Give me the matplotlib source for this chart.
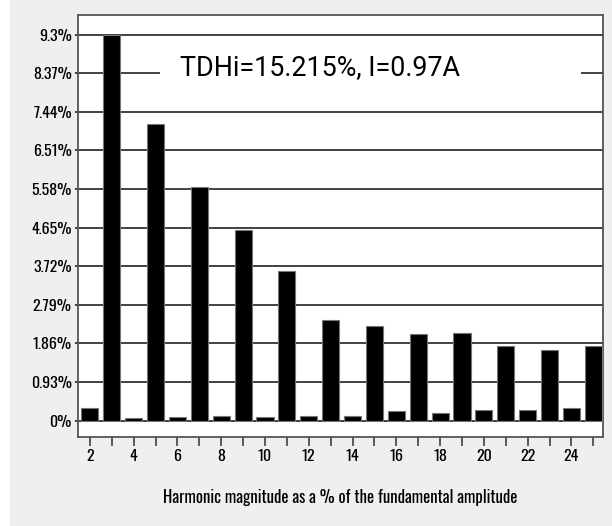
import matplotlib
matplotlib.use('Agg')
import matplotlib.pyplot as plt
from matplotlib.patches import Rectangle

# harmonic order and magnitude (% of fundamental)
harmonics = list(range(2, 26))
magnitude = [0.29, 9.30, 0.05, 7.14, 0.08, 5.63, 0.12, 4.60, 0.08, 3.60,
             0.11, 2.42, 0.11, 2.28, 0.22, 2.08, 0.18, 2.11, 0.26, 1.79,
             0.26, 1.70, 0.29, 1.79]

y_ticks = [0, 0.93, 1.86, 2.79, 3.72, 4.65, 5.58, 6.51, 7.44, 8.37, 9.3]
y_labels = ['0%', '0.93%', '1.86%', '2.79%', '3.72%', '4.65%', '5.58%',
            '6.51%', '7.44%', '8.37%', '9.3%']
x_labels = [str(h) if h % 2 == 0 else '' for h in harmonics]

title_text = 'TDHi=15.215%, I=0.97A'
x_title = 'Harmonic magnitude as a % of the fundamental amplitude'

narrow = ['Oswald', 'Barlow Condensed', 'DejaVu Sans']

fig = plt.figure(figsize=(6.12, 5.26), dpi=100)
fig.patch.set_facecolor('white')
# grey panel behind everything (white strip on the left)
fig.patches.append(Rectangle((10 / 612, 0), 1, 1, transform=fig.transFigure,
                             facecolor='#efefef', edgecolor='none', zorder=-10))

ax = fig.add_axes([78 / 612, 1 - 436.7 / 526, (603 - 78) / 612, (436.7 - 15) / 526])
ax.set_facecolor('white')

ax.bar(harmonics, magnitude, width=0.78, color='black', edgecolor='#777777',
       linewidth=0.8, zorder=3)

ax.set_xlim(1.46, 25.44)
ax.set_ylim(-0.39, 9.77)

ax.set_yticks(y_ticks)
ax.set_yticklabels(y_labels, fontfamily=narrow, fontweight=600, fontsize=11.5)
ax.set_xticks(harmonics)
ax.set_xticklabels(x_labels, fontfamily=narrow, fontweight=600, fontsize=11.5)
ax.tick_params(axis='y', length=2.5, width=1.3, color='#333333', pad=2)
ax.tick_params(axis='x', length=6.2, width=1.1, color='#333333', pad=3)

ax.grid(axis='y', color='#333333', linewidth=1.3, zorder=1)
ax.set_axisbelow(True)
for sp in ax.spines.values():
    sp.set_color('#555555')
    sp.set_linewidth(1.3)

# white gap in the gridline behind the summary text
ax.add_patch(Rectangle((0.156, 8.37 - 0.3), 0.803, 0.6,
                       transform=ax.get_yaxis_transform(),
                       facecolor='white', edgecolor='none', zorder=2))
ax.text(0.194, 8.33, title_text, transform=ax.get_yaxis_transform(),
        fontfamily=['Roboto', 'DejaVu Sans'], fontsize=19.4,
        va='baseline', ha='left', zorder=4)

fig.text((78 + 603) / 2 / 612, 1 - 497 / 526, x_title, ha='center', va='center',
         fontfamily=narrow, fontweight=400, fontsize=12)

fig.savefig('out.png', dpi=100, facecolor=fig.get_facecolor())
